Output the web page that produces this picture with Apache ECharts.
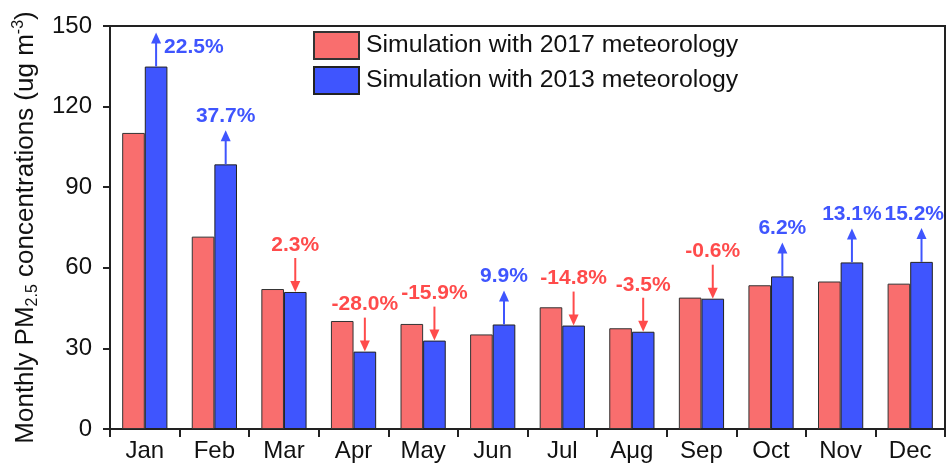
<!DOCTYPE html>
<html>
<head>
<meta charset="utf-8">
<script src="https://cdn.jsdelivr.net/npm/echarts@6/dist/echarts.min.js"></script>
<style>
  html, body { margin: 0; padding: 0; background: #fff; }
  #chart { width: 948px; height: 464px; }
</style>
</head>
<body>
<div id="chart"></div>
<script>
// Monthly PM2.5 under two meteorology years
const months = ['Jan', 'Feb', 'Mar', 'Apr', 'May', 'Jun', 'Jul', 'Aμg', 'Sep', 'Oct', 'Nov', 'Dec'];
const met2017 = [110.2, 71.6, 52.1, 40.2, 39.1, 35.2, 45.3, 37.5, 48.9, 53.5, 54.9, 54.1];
const met2013 = [134.9, 98.5, 51.0, 28.8, 32.9, 38.9, 38.5, 36.2, 48.5, 56.8, 62.0, 62.2];
const changeLabels = ['22.5%', '37.7%', '2.3%', '-28.0%', '-15.9%', '9.9%', '-14.8%', '-3.5%', '-0.6%', '6.2%', '13.1%', '15.2%'];
const yTicks = { min: 0, max: 150, interval: 30 };

const FONT = '"Liberation Sans", Arial, Helvetica, sans-serif';
const LABEL_FONT = 'bold 21px ' + FONT;
const RED = '#F96E6E';
const BLUE = '#3F55FE';
const RED_TXT = '#FF4B4B';
const BLUE_TXT = '#3F55FE';
const GRID = { left: 110, right: 3, top: 26, bottom: 35 };

const chartEl = document.getElementById('chart');
const chart = echarts.init(chartEl);

// text width helper so labels can be kept inside the plot frame
const measureCtx = document.createElement('canvas').getContext('2d');
function textWidth(str, font) {
  measureCtx.font = font;
  return measureCtx.measureText(str).width;
}

// arrow + percentage annotation sitting on the 2013 bar
function renderArrow(params, api) {
  const i = api.value(0);
  const blue = api.value(1);
  const red = api.value(2);
  const up = blue >= red;
  const p = api.coord([i, blue]);
  const bandW = api.size([1, 0])[0];
  const x = p[0] + bandW * 0.1625;
  const yBar = p[1];
  const len = 34, headH = 11, headHalf = 5;
  const col = up ? BLUE_TXT : RED_TXT;
  const text = changeLabels[params.dataIndex];
  const children = [];
  let textX = x, textY, align = 'center';
  if (up) {
    const tip = yBar - len;
    children.push({
      type: 'line',
      shape: { x1: x, y1: yBar, x2: x, y2: tip + headH - 1 },
      style: { stroke: col, lineWidth: 2 }
    });
    children.push({
      type: 'polygon',
      shape: { points: [[x, tip], [x - headHalf, tip + headH], [x + headHalf, tip + headH]] },
      style: { fill: col }
    });
    textY = tip - 14;
    if (textY - 10 < GRID.top + 4) {
      textX = x + 8;
      textY = tip + 15;
      align = 'left';
    }
  } else {
    const start = yBar - len;
    children.push({
      type: 'line',
      shape: { x1: x, y1: start, x2: x, y2: yBar - headH + 1 },
      style: { stroke: col, lineWidth: 2 }
    });
    children.push({
      type: 'polygon',
      shape: { points: [[x, yBar], [x - headHalf, yBar - headH], [x + headHalf, yBar - headH]] },
      style: { fill: col }
    });
    textY = start - 13;
  }
  if (align === 'center') {
    const half = textWidth(text, LABEL_FONT) / 2;
    const rightLimit = chartEl.clientWidth - GRID.right - 1;
    if (textX + half > rightLimit) {
      textX = rightLimit;
      align = 'right';
    }
  }
  children.push({
    type: 'text',
    x: textX,
    y: textY,
    style: {
      text: text,
      fill: col,
      font: LABEL_FONT,
      align: align,
      verticalAlign: 'middle'
    }
  });
  return { type: 'group', children: children };
}

const arrowData = months.map((m, i) => [i, met2013[i], met2017[i]]);

chart.setOption({
  animation: false,
  backgroundColor: '#fff',
  textStyle: { fontFamily: FONT },
  grid: {
    left: GRID.left, right: GRID.right, top: GRID.top, bottom: GRID.bottom,
    outerBoundsMode: 'none',
    containLabel: false,
    show: true, borderColor: '#222', borderWidth: 2, backgroundColor: 'transparent'
  },
  legend: {
    orient: 'vertical',
    left: 313,
    top: 31,
    padding: 0,
    itemWidth: 45,
    itemHeight: 27,
    itemGap: 6,
    icon: 'rect',
    data: ['Simulation with 2017 meteorology', 'Simulation with 2013 meteorology'],
    textStyle: { fontSize: 24.8, color: '#111', fontFamily: FONT, padding: [0, 0, 0, 2] }
  },
  xAxis: {
    type: 'category',
    data: months,
    axisLine: { lineStyle: { color: '#222', width: 2 } },
    axisTick: { show: true, length: 8, lineStyle: { color: '#222', width: 2 } },
    axisLabel: { color: '#111', fontSize: 24, margin: 10, fontFamily: FONT }
  },
  yAxis: {
    type: 'value',
    min: yTicks.min,
    max: yTicks.max,
    interval: yTicks.interval,
    splitLine: { show: false },
    axisLine: { show: true, lineStyle: { color: '#222', width: 2 } },
    axisTick: { show: true, length: 7, lineStyle: { color: '#222', width: 2 } },
    axisLabel: { color: '#111', fontSize: 24, margin: 18, fontFamily: FONT },
    name: '{a|Monthly PM}{sub|2.5}{a| concentrations (ug m}{sup|-3}{a|)}',
    nameLocation: 'middle',
    nameGap: 64,
    nameRotate: 90,
    nameTextStyle: {
      color: '#111',
      fontFamily: FONT,
      rich: {
        a: { fontSize: 26, lineHeight: 30, color: '#111', fontFamily: FONT },
        sub: { fontSize: 16, lineHeight: 16, verticalAlign: 'bottom', color: '#111', fontFamily: FONT },
        sup: { fontSize: 16, lineHeight: 16, verticalAlign: 'top', color: '#111', fontFamily: FONT }
      }
    }
  },
  series: [
    {
      name: 'Simulation with 2017 meteorology',
      type: 'bar',
      data: met2017,
      barWidth: '32.5%',
      barGap: '0%',
      itemStyle: { color: RED, borderColor: '#333', borderWidth: 1 }
    },
    {
      name: 'Simulation with 2013 meteorology',
      type: 'bar',
      data: met2013,
      barWidth: '32.5%',
      barGap: '0%',
      itemStyle: { color: BLUE, borderColor: '#222', borderWidth: 1 }
    },
    {
      type: 'custom',
      renderItem: renderArrow,
      data: arrowData,
      encode: { x: 0, y: 1 },
      clip: false,
      silent: true,
      z: 5
    }
  ]
});
</script>
</body>
</html>
